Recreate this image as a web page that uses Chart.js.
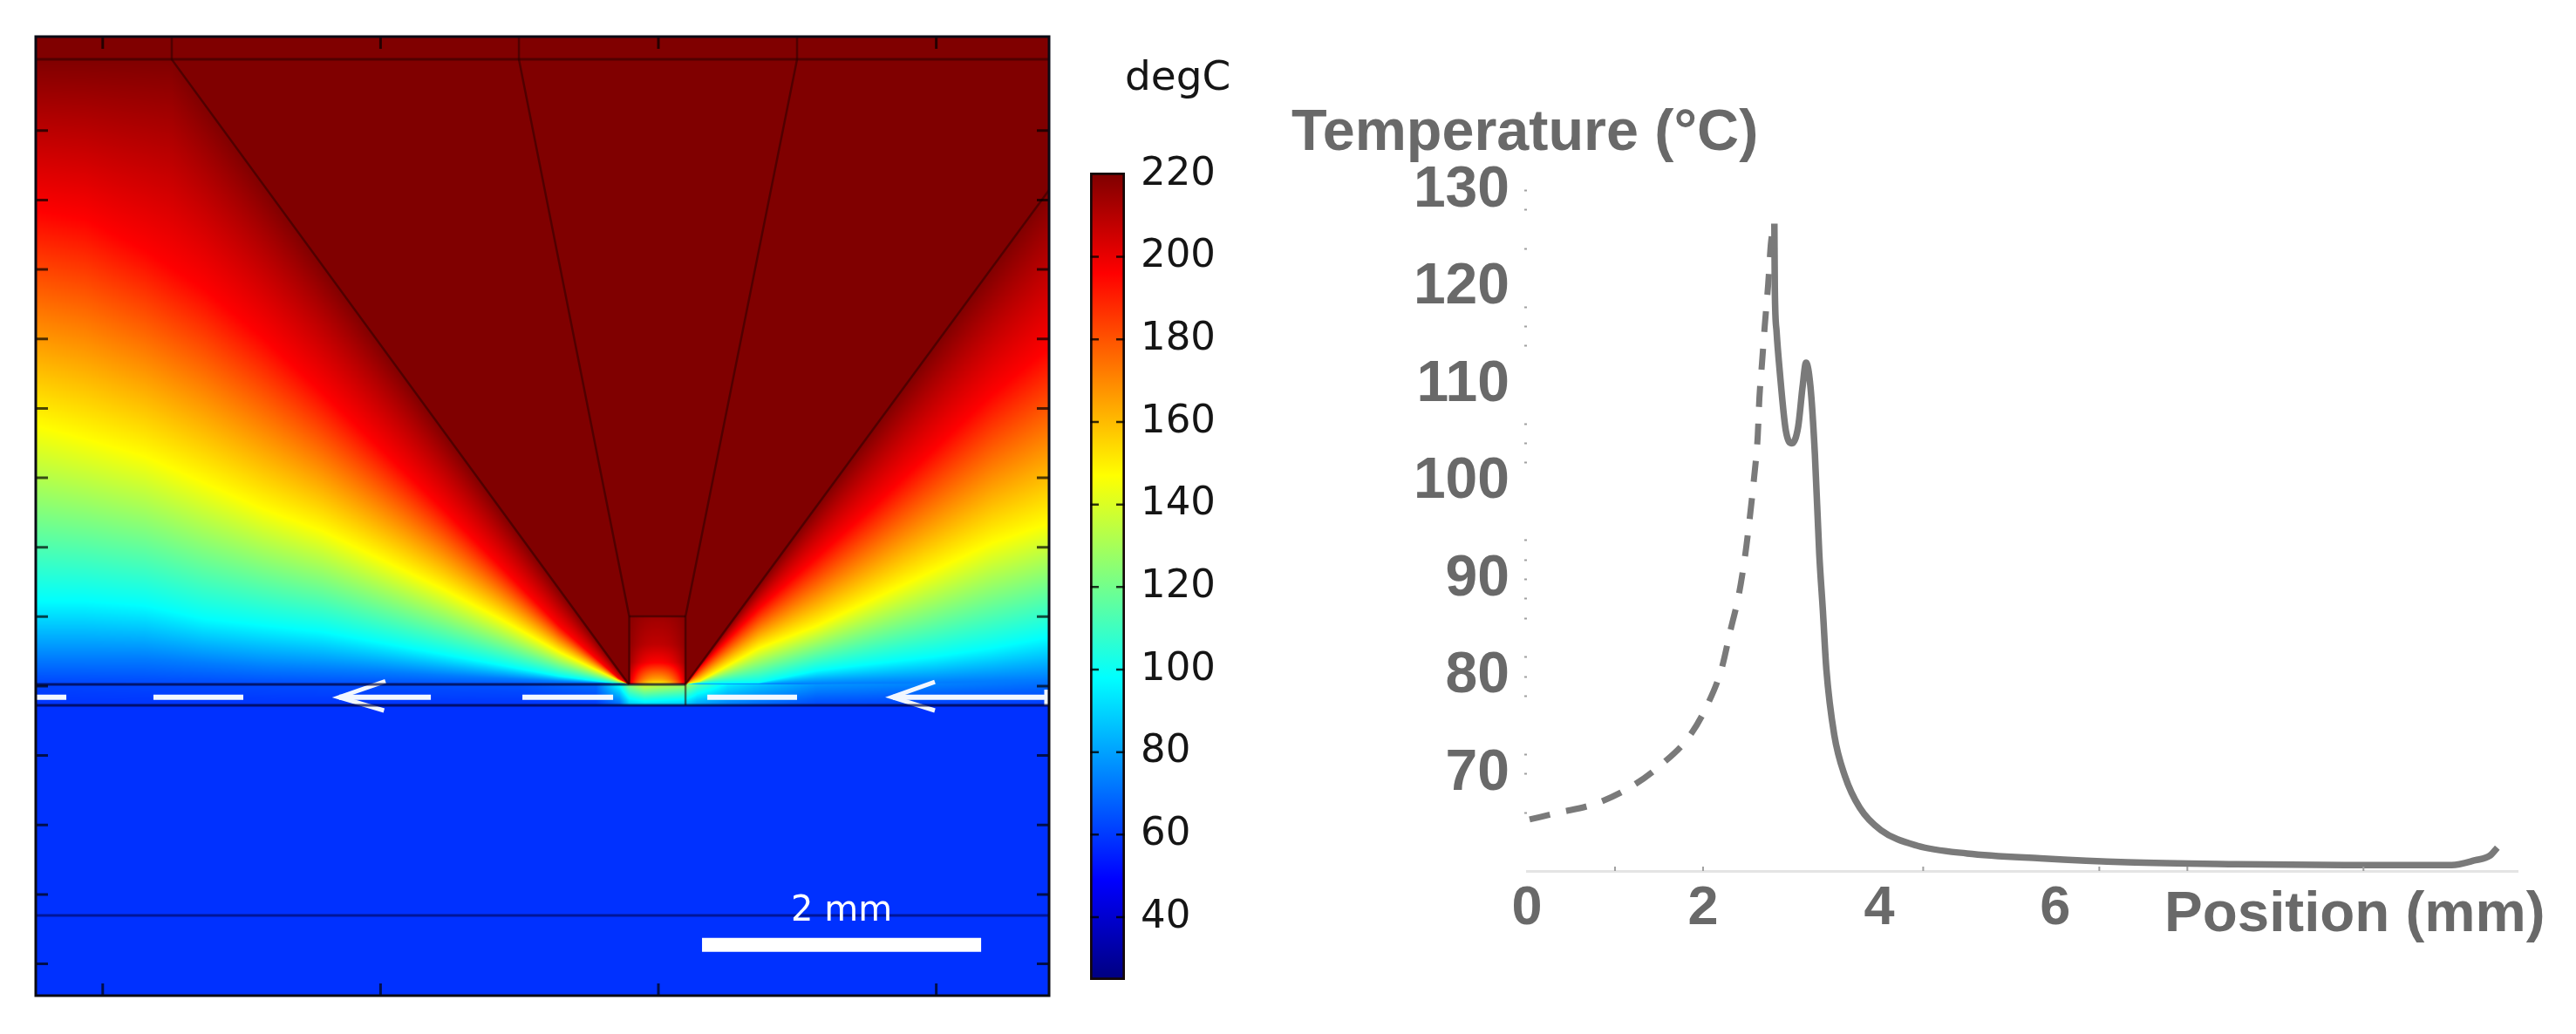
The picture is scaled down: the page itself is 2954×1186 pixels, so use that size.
<!DOCTYPE html>
<html>
<head>
<meta charset="utf-8">
<title>Temperature field and surface temperature profile</title>
<style>
html,body{margin:0;padding:0;background:#fff;width:2954px;height:1186px;overflow:hidden}
canvas{position:absolute;display:block}
</style>
<script src="https://cdn.jsdelivr.net/npm/chart.js@4"></script>
</head>
<body>
<canvas id="field" style="left:37px;top:38px" width="1170" height="1108"></canvas>
<canvas id="bar" style="left:1240px;top:50px" width="190" height="1119"></canvas>
<canvas id="profile" style="left:1450px;top:100px" width="1504" height="1000"></canvas>
<script>
// ---------- line chart values ----------
const dashedPosition = [0.03,0.36,0.77,1.17,1.52,1.84,2.05,2.21,2.31,2.41,2.48,2.53,2.58,2.62,2.64,2.67,2.70,2.74,2.77,2.805];
const dashedTemp     = [65.3,66.0,66.9,68.6,70.9,73.8,77.1,80.8,84.7,88.6,92.6,96.3,100.5,104.6,108.7,112.3,116,120.4,124.5,126.6];
const solidPosition  = [2.81,2.815,2.835,2.87,2.94,3.01,3.08,3.13,3.17,3.22,3.27,3.32,3.36,3.40,3.49,3.61,3.78,4.02,4.43,5.0,5.83,6.82,8.06,9.3,10.5,10.77,10.94,11.02];
const solidTemp      = [126.6,120,115.5,111.5,105.3,104,105.7,109.8,112.3,109.8,102.9,92.6,86.9,80.8,74,69.8,66.5,64.2,62.6,61.8,61.3,60.9,60.7,60.6,60.6,61.1,61.6,62.4];
const profileXLabels = [0,2,4,6];
const profileXMarks  = [1,2,4.5,6.5,7.5,9.5];
const profileYDots   = [130,128,124,118,116,114,106,104,102,94,92,90,88,86,82,80,78,72,70,66];

// ---------- colour bar ----------
const barTicks = [40,60,80,100,120,140,160,180,200,220];
const barMin = 24.8, barMax = 220.4;
const stopTemp = [25,49,98,147,196,220];
const stopRGB  = [[0,0,128],[0,0,255],[0,255,255],[255,255,0],[255,0,0],[128,0,0]];

// ---------- temperature field, read as isotherm heights (mm) per column (mm) ----------
const fieldXTicks = [-4,-2,0,2];
const fieldYTicks = [-2,-1.5,-1,-0.5,0,0.5,1,1.5,2,2.5,3,3.5,4];
const isoTemps = [196,147,98,73];
const leftCols = [-4.482,-4.124,-3.697,-3.271,-2.844,-2.417,-1.990,-1.563,-1.136,-0.716,-0.289,-0.213];
const leftIso196 = [3.424,3.361,3.140,2.861,2.507,2.112,1.701,1.290,0.863,0.436,0.057,0.013];
const leftIso147 = [1.875,1.780,1.654,1.464,1.274,1.116,0.910,0.705,0.483,0.246,0.041,0.013];
const leftIso98  = [0.610,0.610,0.578,0.483,0.436,0.389,0.310,0.231,0.151,0.072,0.016,0.013];
const leftIso73  = [0.199,0.199,0.199,0.167,0.136,0.120,0.104,0.079,0.057,0.034,0.016,0.013];
const rightCols = [0.195,0.301,0.722,1.142,1.557,1.977,2.398,2.793];
const rightIso196 = [0.013,0.136,0.558,0.930,1.302,1.699,2.097,2.419];
const rightIso147 = [0.013,0.036,0.272,0.434,0.632,0.831,1.029,1.166];
const rightIso98  = [0.013,0.020,0.024,0.111,0.161,0.210,0.272,0.347];
const rightIso73  = [0.013,0.014,0.014,0.016,0.020,0.025,0.037,0.049];
const layerCols   = [-4.482,-1.0,-0.45,-0.28,-0.21,-0.10,0.195,0.28,0.50,0.72,1.14,2.812];
const layerTopT   = [62,65,70,100,125,140,130,115,95,88,78,70];
const layerBottomT= [59,59,60,68,85,88,85,78,72,68,62,60];
const tipY = [0.013,0.05,0.17,0.30,0.502];
const tipT = [148,165,196,208,214];
const substrateT = 58.5;

// ---------- geometry lines of the model, in mm ----------
const topLineY = 4.513, layerTopY = 0.013, layerBottomY = -0.138, lowerLineY = -1.651;
const wedgeLeft  = [[-3.503,4.677],[-3.503,4.513],[-0.213,0.013]];
const innerLeft  = [[-1.004,4.677],[-1.004,4.513],[-0.210,0.502],[-0.210,0.013]];
const innerRight = [[0.998,4.677],[0.998,4.513],[0.195,0.502],[0.195,-0.138]];
const wedgeRight = [[0.195,0.013],[2.812,3.572]];
const tipTop     = [[-0.210,0.502],[0.195,0.502]];
const whitePath  = [[-4.482,-0.08],[-4.262,-0.08],[null,null],[-3.635,-0.08],[-2.988,-0.08],[null,null],[-2.298,-0.08],[-1.638,-0.08],[null,null],[-0.979,-0.08],[-0.326,-0.08],[null,null],[0.352,-0.08],[0.998,-0.08],[null,null],[1.689,-0.08],[2.793,-0.08]];
const arrowOne   = [[-1.965,0.035],[-2.298,-0.08],[-1.975,-0.176]];
const arrowTwo   = [[1.990,0.030],[1.682,-0.08],[1.990,-0.176]];
const pathEnd    = [[2.793,-0.025],[2.793,-0.138]];
const scaleBarX  = [0.314,2.323];
const scaleBarY  = -1.864;

Chart.defaults.animation = false;
Chart.defaults.responsive = false;
Chart.defaults.plugins.legend.display = false;
Chart.defaults.plugins.tooltip.enabled = false;

const lerp = (xs, ys, x) => {
  if (x <= xs[0]) return ys[0];
  for (let i = 1; i < xs.length; i++) {
    if (x <= xs[i]) {
      const d = xs[i] - xs[i-1];
      return d <= 0 ? ys[i] : ys[i-1] + (ys[i]-ys[i-1]) * (x-xs[i-1]) / d;
    }
  }
  return ys[ys.length-1];
};
const wedgeY = x => {
  if (x < -0.213) return 0.013 + (-0.213 - x) * (4.513-0.013) / (3.503-0.213);
  if (x > 0.195) return 0.013 + (x - 0.195) * (3.572-0.013) / (2.812-0.195);
  return 0.013;
};
const rgbOf = T => {
  const t = Math.max(stopTemp[0], Math.min(stopTemp[5], T));
  return [lerp(stopTemp, stopRGB.map(c=>c[0]), t), lerp(stopTemp, stopRGB.map(c=>c[1]), t), lerp(stopTemp, stopRGB.map(c=>c[2]), t)];
};
const RAMP = 10;
const R = new Uint8Array(2300), G = new Uint8Array(2300), B = new Uint8Array(2300);
for (let i = 0; i < 2300; i++) { const c = rgbOf(i/RAMP); R[i]=c[0]; G[i]=c[1]; B[i]=c[2]; }

const fieldPainter = {
  id: 'fieldPainter',
  beforeDatasetsDraw(chart) {
    const {ctx, chartArea: a, scales: {x: sx, y: sy}} = chart;
    const w = Math.round(a.right - a.left), h = Math.round(a.bottom - a.top);
    const off = document.createElement('canvas'); off.width = w; off.height = h;
    const oc = off.getContext('2d'); const img = oc.createImageData(w, h); const d = img.data;
    const ys = []; for (let j = 0; j < h; j++) ys.push(sy.getValueForPixel(a.top + j + 0.5));
    for (let i = 0; i < w; i++) {
      const x = sx.getValueForPixel(a.left + i + 0.5);
      const lt = lerp(layerCols, layerTopT, x), lb = lerp(layerCols, layerBottomT, x);
      const wy = wedgeY(x), top = Math.min(topLineY, wy);
      let iso = null;
      if (x < -0.21) iso = [top, lerp(leftCols,leftIso196,x), lerp(leftCols,leftIso147,x), lerp(leftCols,leftIso98,x), lerp(leftCols,leftIso73,x), layerTopY];
      else if (x > 0.195) iso = [top, lerp(rightCols,rightIso196,x), lerp(rightCols,rightIso147,x), lerp(rightCols,rightIso98,x), lerp(rightCols,rightIso73,x), layerTopY];
      const isT = [220, ...isoTemps, lt];
      const edge = Math.pow(Math.abs(x + 0.008) / 0.2, 2.2);
      for (let j = 0; j < h; j++) {
        const y = ys[j]; let T;
        if (y < layerBottomY) T = substrateT;
        else if (y < layerTopY) T = lb + (lt - lb) * (y - layerBottomY) / (layerTopY - layerBottomY);
        else if (y >= topLineY) T = 220;
        else if (!iso) {
          if (y > tipY[4]) T = 220;
          else { const c = lerp(tipY, tipT, y); T = c + (220 - c) * Math.min(1, edge) * 0.75; }
        }
        else if (y >= iso[0]) T = 220;
        else {
          let k = 1; while (k < 5 && y < iso[k]) k++;
          const g = iso[k-1] - iso[k];
          T = g <= 1e-6 ? isT[k] : isT[k] + (isT[k-1] - isT[k]) * (y - iso[k]) / g;
        }
        const q = Math.max(0, Math.min(2299, Math.round(T * RAMP))), p = (j * w + i) * 4;
        d[p] = R[q]; d[p+1] = G[q]; d[p+2] = B[q]; d[p+3] = 255;
      }
    }
    oc.putImageData(img, 0, 0);
    ctx.drawImage(off, a.left, a.top);
  },
  afterDatasetsDraw(chart) {
    const {ctx, chartArea: a, scales: {x: sx, y: sy}} = chart;
    ctx.save();
    ctx.strokeStyle = 'rgba(0,0,0,0.7)'; ctx.lineWidth = 3;
    ctx.beginPath();
    fieldXTicks.forEach(v => { const p = sx.getPixelForValue(v);
      ctx.moveTo(p, a.top); ctx.lineTo(p, a.top + 14); ctx.moveTo(p, a.bottom); ctx.lineTo(p, a.bottom - 14); });
    fieldYTicks.forEach(v => { const p = sy.getPixelForValue(v);
      ctx.moveTo(a.left, p); ctx.lineTo(a.left + 14, p); ctx.moveTo(a.right, p); ctx.lineTo(a.right - 14, p); });
    ctx.stroke();
    ctx.strokeStyle = '#0a0a14'; ctx.lineWidth = 3;
    ctx.strokeRect(a.left, a.top, a.right - a.left, a.bottom - a.top);
    ctx.fillStyle = '#ffffff'; ctx.font = '40px "DejaVu Sans"'; ctx.textAlign = 'center'; ctx.textBaseline = 'alphabetic';
    ctx.fillText('2 mm', sx.getPixelForValue((scaleBarX[0]+scaleBarX[1])/2), sy.getPixelForValue(scaleBarY) - 28);
    ctx.restore();
  }
};

const thin = (data, color, width) => ({data: data.map(p => ({x:p[0], y:p[1]})), borderColor: color, borderWidth: width, showLine: true, pointRadius: 0, spanGaps: false, tension: 0, fill: false});
const edgeColor = 'rgba(40,0,0,0.55)', layerColor = 'rgba(0,0,50,0.7)';

new Chart(document.getElementById('field'), {
  type: 'scatter',
  data: {datasets: [
    thin([[-4.482,topLineY],[2.812,topLineY]], edgeColor, 3),
    thin(wedgeLeft, edgeColor, 2.5), thin(innerLeft, edgeColor, 2.5), thin(innerRight, edgeColor, 2.5), thin(wedgeRight, edgeColor, 2.5), thin(tipTop, edgeColor, 2.5),
    thin([[-4.482,layerTopY],[0.195,layerTopY]], layerColor, 3),
    thin([[-4.482,layerBottomY],[2.812,layerBottomY]], layerColor, 3),
    thin([[-4.482,lowerLineY],[2.812,lowerLineY]], 'rgba(0,0,70,0.55)', 3),
    thin(whitePath, '#f2f7ff', 6), thin(arrowOne, '#f2f7ff', 5), thin(arrowTwo, '#f2f7ff', 5), thin(pathEnd, '#f2f7ff', 5),
    thin([[scaleBarX[0],scaleBarY],[scaleBarX[1],scaleBarY]], '#ffffff', 16)
  ]},
  options: {
    layout: {padding: 4, autoPadding: false},
    scales: {
      x: {type: 'linear', display: false, min: -4.482, max: 2.812},
      y: {type: 'linear', display: false, min: -2.229, max: 4.677}
    }
  },
  plugins: [fieldPainter]
});

new Chart(document.getElementById('bar'), {
  type: 'bar',
  data: {labels: ['degC'], datasets: [{
    data: [[barMin, barMax]],
    categoryPercentage: 1, barPercentage: 1,
    borderColor: '#140808', borderWidth: 3, borderSkipped: false,
    backgroundColor: '#808080'
  }]},
  options: {
    layout: {padding: {left: 10, right: 0, top: 148, bottom: 18}, autoPadding: false},
    scales: {
      x: {display: false},
      y: {
        position: 'right', min: barMin, max: barMax,
        border: {display: false},
        grid: {drawOnChartArea: false, drawTicks: false},
        afterBuildTicks(s) { s.ticks = barTicks.map(v => ({value: v})); },
        afterFit(s) { s.width = 140; },
        ticks: {padding: 18, color: '#151515', font: {family: '"DejaVu Sans"', size: 45}, autoSkip: false}
      }
    }
  },
  plugins: [{
    id: 'barDetail',
    afterLayout(chart) {
      const s = chart.scales.y;
      const y0 = s.getPixelForValue(stopTemp[0]), y1 = s.getPixelForValue(stopTemp[5]);
      const g = chart.ctx.createLinearGradient(0, y0, 0, y1);
      stopTemp.forEach((t, i) => g.addColorStop((t - stopTemp[0]) / (stopTemp[5] - stopTemp[0]), 'rgb(' + stopRGB[i].join(',') + ')'));
      chart.data.datasets[0].backgroundColor = g;
    },
    afterDatasetsDraw(chart) {
      const {ctx, chartArea: a, scales: {y}} = chart;
      ctx.save();
      ctx.strokeStyle = 'rgba(0,0,0,0.8)'; ctx.lineWidth = 2.5; ctx.beginPath();
      barTicks.forEach(v => { if (v === 220) return; const p = y.getPixelForValue(v);
        ctx.moveTo(a.left, p); ctx.lineTo(a.left + 10, p); ctx.moveTo(a.right, p); ctx.lineTo(a.right - 10, p); });
      ctx.stroke();
      ctx.fillStyle = '#151515'; ctx.font = '47px "DejaVu Sans"'; ctx.textAlign = 'left'; ctx.textBaseline = 'alphabetic';
      ctx.fillText('degC', 50, 53);
      ctx.restore();
    }
  }]
});

const curveGrey = '#7a7a7a', textGrey = '#696969';
new Chart(document.getElementById('profile'), {
  type: 'scatter',
  data: {datasets: [
    {data: dashedPosition.map((x,i)=>({x, y: dashedTemp[i]})), showLine: true, pointRadius: 0, borderColor: curveGrey, borderWidth: 7, borderDash: [24,19], cubicInterpolationMode: 'monotone', clip: false},
    {data: solidPosition.map((x,i)=>({x, y: solidTemp[i]})), showLine: true, pointRadius: 0, borderColor: curveGrey, borderWidth: 7.5, cubicInterpolationMode: 'monotone', clip: false}
  ]},
  options: {
    layout: {padding: {left: 0, right: 67, top: 118.6, bottom: 0}, autoPadding: false},
    scales: {
      x: {
        type: 'linear', min: 0, max: 11.25,
        border: {color: '#e4e4e4', width: 3},
        grid: {drawOnChartArea: false, drawTicks: false},
        afterBuildTicks(s) { s.ticks = profileXLabels.map(v => ({value: v})); },
        afterFit(s) { s.height = 101; },
        ticks: {color: textGrey, font: {family: '"Liberation Sans"', size: 63, weight: 'bold'}, padding: 6, maxRotation: 0, autoSkip: false, callback: v => String(v)}
      },
      y: {
        type: 'linear', min: 60, max: 130,
        border: {display: false},
        grid: {
          drawOnChartArea: false, tickLength: 3, tickWidth: 2,
          tickColor: c => profileYDots.includes(c.tick && c.tick.value) ? '#a0a0a0' : 'rgba(0,0,0,0)'
        },
        afterFit(s) { s.width = 301; },
        ticks: {stepSize: 2, autoSkip: false, color: textGrey, font: {family: '"Liberation Sans"', size: 66, weight: 'bold'}, padding: 17,
          callback: v => (v % 10 === 0 && v > 60) ? String(v) : ''}
      }
    }
  },
  plugins: [{
    id: 'profileText',
    afterDraw(chart) {
      const {ctx, chartArea: a, scales: {x}} = chart;
      ctx.save();
      ctx.strokeStyle = '#a0a0a0'; ctx.lineWidth = 2; ctx.beginPath();
      profileXMarks.forEach(v => { const p = x.getPixelForValue(v); ctx.moveTo(p, a.bottom); ctx.lineTo(p, a.bottom - 5); });
      ctx.stroke();
      ctx.fillStyle = textGrey; ctx.textAlign = 'left'; ctx.textBaseline = 'alphabetic';
      ctx.font = 'bold 66.5px "Liberation Sans"';
      ctx.fillText('Temperature (°C)', 31, 72);
      ctx.font = 'bold 65.5px "Liberation Sans"';
      ctx.fillText('Position (mm)', 1032, 968);
      ctx.restore();
    }
  }]
});
</script>
</body>
</html>
